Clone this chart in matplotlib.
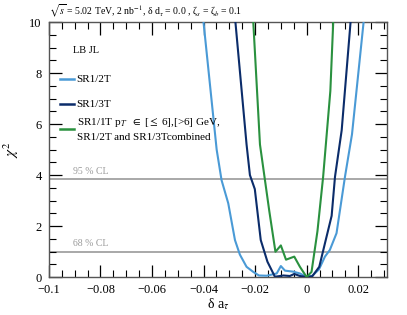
import numpy as np
import matplotlib
matplotlib.use("Agg")
import matplotlib.pyplot as plt
from matplotlib.ticker import MultipleLocator
from matplotlib.lines import Line2D

plt.rcParams["font.family"] = ["Liberation Serif", "DejaVu Serif"]
plt.rcParams["mathtext.fontset"] = "stix"

# chi2 scans vs delta a_tau
sr12_x = [-0.0402, -0.0349, -0.0330, -0.0304, -0.0278, -0.0259, -0.0233, -0.0207, -0.0185,
          -0.0155, -0.0116, -0.0100, -0.0084, -0.0052, -0.0026, 0.0, 0.0022, 0.0048,
          0.0071, 0.0090, 0.0116, 0.0149, 0.0176, 0.0223]
sr12_y = [10.2, 5.0, 3.8, 2.89, 1.45, 0.88, 0.40, 0.20, 0.06,
          0.05, 0.14, 0.43, 0.25, 0.21, 0.14, 0.0, 0.05, 0.30,
          0.80, 1.06, 1.72, 3.95, 5.6, 10.2]

sr13_x = [-0.0278, -0.0233, -0.0220, -0.0201, -0.0178, -0.0152, -0.0123, -0.0090, -0.0065,
          -0.0048, -0.0026, 0.0, 0.0022, 0.0049, 0.0071, 0.0097, 0.0110, 0.0136, 0.0172]
sr13_y = [10.2, 5.2, 4.0, 3.45, 1.45, 0.60, 0.01, 0.06, 0.04,
          0.12, 0.04, 0.0, 0.03, 0.40, 1.32, 2.40, 3.93, 5.76, 10.2]

comb_x = [-0.0208, -0.0181, -0.0145, -0.0121, -0.0100, -0.0080, -0.0048, -0.0026, 0.0,
          0.0019, 0.0042, 0.0064, 0.0092, 0.0104]
comb_y = [10.2, 5.2, 2.6, 0.99, 1.24, 0.68, 0.80, 0.40, 0.0,
          0.20, 1.80, 3.93, 7.3, 10.2]

cl_levels = [3.84, 1.0]
cl_labels = ["95 % CL", "68 % CL"]

c_light = "#4a9ad6"
c_navy = "#0b2c6a"
c_green = "#2a913f"
c_gray = "#9a9a9a"

fig = plt.figure(figsize=(4.07, 3.15), dpi=100)
ax = fig.add_axes([0.120, 0.1206, 0.831, 0.809])

for lvl, lab in zip(cl_levels, cl_labels):
    ax.axhline(lvl, color=c_gray, lw=1.2, zorder=1)
    ax.text(-0.0907, lvl + 0.12, lab, color=c_gray, fontsize=7, va="bottom", ha="left")

ax.plot(sr12_x, sr12_y, color=c_light, lw=1.5, zorder=3)
ax.plot(sr13_x, sr13_y, color=c_navy, lw=1.5, zorder=4)
ax.plot(comb_x, comb_y, color=c_green, lw=1.5, zorder=5)

ax.set_xlim(-0.1, 0.0312)
ax.set_ylim(0, 10)
ax.xaxis.set_major_locator(MultipleLocator(0.02))
ax.xaxis.set_minor_locator(MultipleLocator(0.005))
ax.yaxis.set_major_locator(MultipleLocator(2))
ax.yaxis.set_minor_locator(MultipleLocator(0.5))
ax.tick_params(which="both", direction="in", top=True, right=True, labelsize=9)
ax.tick_params(axis="x", pad=5)
ax.tick_params(axis="y", pad=5)
ax.tick_params(which="major", length=9, width=0.9)
ax.tick_params(which="minor", length=5, width=0.8)
ax.set_xticks([-0.1, -0.08, -0.06, -0.04, -0.02, 0, 0.02])
ax.set_xticklabels(["\u22120.1", "\u22120.08", "\u22120.06", "\u22120.04", "\u22120.02", "0", "0.02"])
for s in ax.spines.values():
    s.set_color("#555555")
    s.set_linewidth(1.0)

ax.set_xlabel(r"δ a$_{\tau}$", fontsize=10, labelpad=0)
ax.set_ylabel(r"$\chi^{2}$", fontsize=11, labelpad=6)

# header text above the frame
ax.text(0.0, 1.012, r"$\sqrt{s}$ = 5.02 TeV, 2 nb$^{-1}$, δ d$_{\tau}$ = 0.0 , ζ$_{s}$ = ζ$_{b}$ = 0.1",
        transform=ax.transAxes, fontsize=7, ha="left", va="bottom")

# legend drawn by hand (ROOT style slots)
ax.text(0.071, 0.890, "LB JL", transform=ax.transAxes, fontsize=7.5, va="center", ha="left")
entries = [
    (c_light, "SR1/2T", 0.776),
    (c_navy, "SR1/3T", 0.678),
    (c_green, "SR1/1T p$_{T'}$ $\\in$ [$\\leq$ 6],[>6] GeV,\nSR1/2T and SR1/3Tcombined", 0.580),
]
for col, lab, yy in entries:
    ax.add_line(Line2D([0.0325, 0.074], [yy, yy], transform=ax.transAxes, color=col, lw=1.8))
    ax.text(0.082, yy, lab, transform=ax.transAxes, fontsize=8, va="center", ha="left",
            linespacing=1.5)

fig.savefig("out.png", dpi=100)
